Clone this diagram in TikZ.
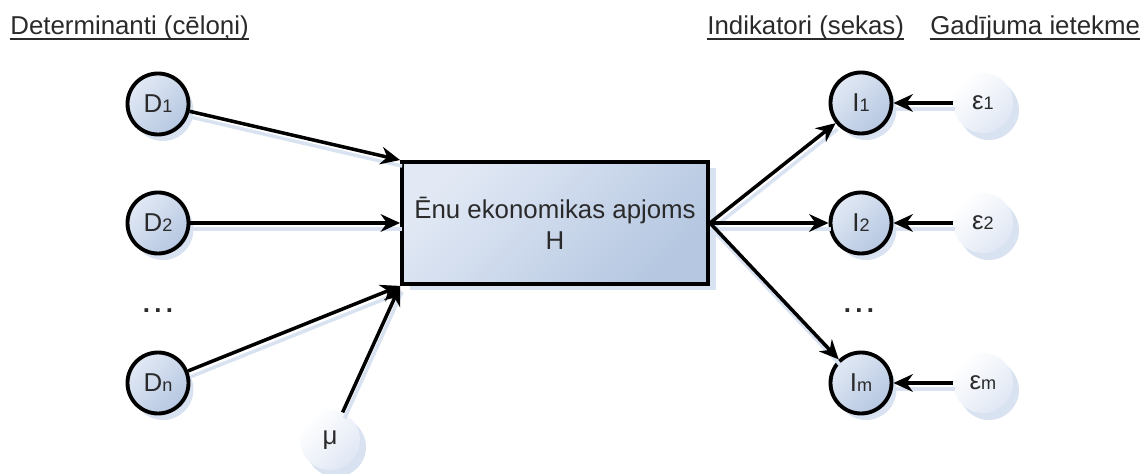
\documentclass[tikz,border=0pt]{standalone}
\usepackage{fontspec}
\setmainfont{Liberation Sans}
\usetikzlibrary{arrows.meta,shadows,positioning}

\definecolor{nodelight}{HTML}{E2E9F5}
\definecolor{nodedark}{HTML}{B5C7E1}
\definecolor{noiselight}{HTML}{FFFFFF}
\definecolor{noisedark}{HTML}{E0E7F4}
\definecolor{shadowblue}{HTML}{D9E2F1}
\definecolor{textgray}{HTML}{2A2A2A}

\newcommand{\var}[2]{#1{\fontsize{10.3}{12}\selectfont #2}}
\newcommand{\threedots}{{\bfseries .\kern2.5pt.\kern2.5pt.}}

\tikzset{
  every node/.style={font=\fontsize{14.7}{17.5}\selectfont, text=textgray},
  varnode/.style={circle, draw=black, line width=2.2pt, minimum size=1.22cm, inner sep=0pt,
    top color=nodelight, bottom color=nodedark, shading angle=45,
    drop shadow={shadow xshift=0.1cm, shadow yshift=-0.13cm, fill=shadowblue, opacity=1}},
  noisenode/.style={circle, minimum size=1.2cm, inner sep=0pt,
    top color=noiselight, bottom color=noisedark, shading angle=45,
    drop shadow={shadow xshift=0.12cm, shadow yshift=-0.14cm, fill=shadowblue, opacity=1}},
  sizebox/.style={rectangle, draw=black, line width=2.2pt, minimum width=6.12cm, minimum height=2.44cm,
    align=center, top color=nodelight, bottom color=nodedark, shading angle=45,
    drop shadow={shadow xshift=0.16cm, shadow yshift=-0.12cm, fill=shadowblue, opacity=1}},
  arr/.style={-{Stealth[length=11pt,width=10pt]}, line width=2pt,
    preaction={draw=shadowblue, -, line width=2pt, transform canvas={xshift=0.04cm, yshift=-0.12cm}}},
  header/.style={anchor=base west, inner sep=0pt},
  uline/.style={draw=textgray, line width=0.9pt}
}

\begin{document}
\begin{tikzpicture}
	\useasboundingbox (0,0) rectangle (22.86,9.48);

	% Column headers
	\node[header] (hdet) at (0.2,8.78) {Determinanti (cēloņi)};
	\node[header] (hind) at (14.14,8.78) {Indikatori (sekas)};
	\node[header] (hgad) at (18.6,8.78) {Gadījuma ietekme};
	\foreach \h in {hdet,hind,hgad} {
		\draw[uline] ([yshift=-2.2pt]\h.base west) -- ([yshift=-2.2pt]\h.base east);
	}

	% Central box
	\node[sizebox] (box) at (11.1,5.02) {Ēnu ekonomikas apjoms\\H};

	% Determinants and indicators
	\foreach \i/\y in {1/7.40, 2/5.02, n/1.82} {
		\node[varnode] (D\i) at (3.16,\y) {\var{D}{\i}};
	}
	\foreach \i/\y in {1/7.42, 2/5.02, m/1.82} {
		\node[varnode] (I\i) at (17.22,\y) {\var{I}{\i}};
		\node[noisenode] (e\i) at (19.66,\y) {\var{ε}{\i}};
	}
	\node[anchor=base] (ddots) at (3.16,3.22) {\threedots};
	\node[anchor=base] (idots) at (17.18,3.22) {\threedots};
	\node[noisenode] (mu) at (6.6,0.68) {μ};

	% Connectors
	\draw[arr] (D1) -- (box.north west);
	\draw[arr] (D2) -- (D2 -| box.west);
	\draw[arr] (Dn) -- (box.south west);
	\draw[arr] (mu) -- (box.south west);
	\foreach \i in {1,2,m} {
		\draw[arr] (box.east) -- (I\i);
		\draw[arr] (e\i) -- (I\i);
	}
\end{tikzpicture}
\end{document}
